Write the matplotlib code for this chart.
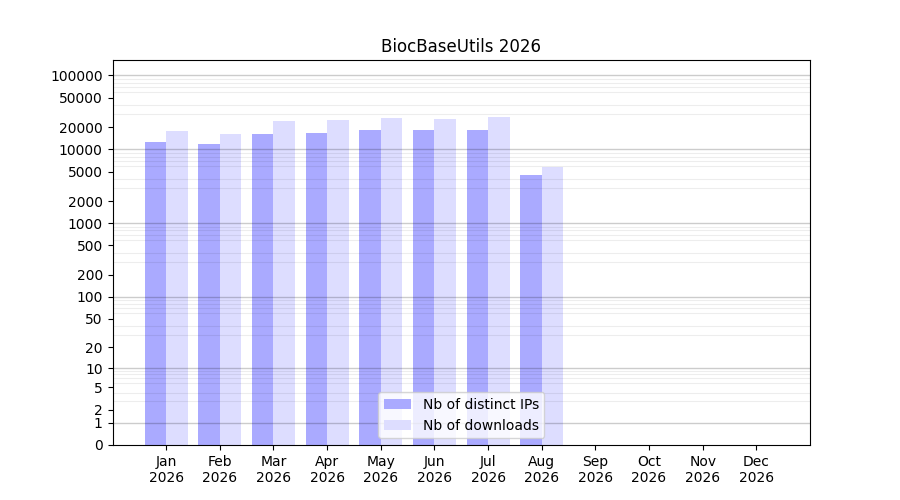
import numpy as np
import matplotlib
matplotlib.use("Agg")
from matplotlib import pyplot as plt

# monthly values
months = ["Jan", "Feb", "Mar", "Apr", "May", "Jun",
          "Jul", "Aug", "Sep", "Oct", "Nov", "Dec"]
year = "2026"
distinct_ips = [12600, 11800, 16200, 16700, 18300, 18300, 18300, 4500]
downloads = [17700, 16200, 24200, 25000, 26600, 25800, 27400, 5780]

y_ticks = [0, 1, 2, 5, 10, 20, 50, 100, 200, 500, 1000, 2000, 5000,
           10000, 20000, 50000, 100000]


def forward(v):
    return np.log10(np.asarray(v, dtype=float) + 1)


def inverse(v):
    return 10 ** np.asarray(v, dtype=float) - 1


fig, ax = plt.subplots(figsize=(9, 5), dpi=100)

x = np.arange(len(months))
n = len(distinct_ips)
width = 0.4
ax.bar(x[:n] - width / 2, distinct_ips, width, color="#aaaaff",
       label="Nb of distinct IPs")
ax.bar(x[:n] + width / 2, downloads, width, color="#ddddff",
       label="Nb of downloads")

ax.set_yscale("function", functions=(forward, inverse))
ax.set_ylim(0, 162000)
ax.set_xlim(-1, 12)

ax.set_yticks(y_ticks)
ax.set_yticklabels([str(t) for t in y_ticks])
minor = [k * 10 ** e for e in range(0, 5) for k in range(2, 10)]
ax.set_yticks(minor, minor=True)
ax.tick_params(axis="y", which="minor", length=0)
ax.grid(axis="y", which="minor", color="black", alpha=0.07, linewidth=0.8)
for e in range(0, 6):
    ax.axhline(10 ** e, color="black", alpha=0.2, linewidth=1.0, zorder=1.5)

ax.set_xticks(x)
ax.set_xticklabels([f"{m}\n{year}" for m in months])

ax.set_title("BiocBaseUtils 2026")
ax.legend(loc="lower center")

fig.savefig("out.png")
